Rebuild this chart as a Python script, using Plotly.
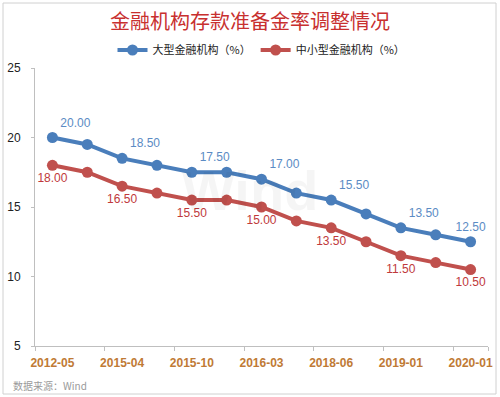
import plotly.graph_objects as go

categories = ["2012-05", "2015-02", "2015-04", "2015-09", "2015-10", "2016-01", "2016-03",
              "2018-04", "2018-06", "2018-10", "2019-01", "2019-09", "2020-01"]
tick_labels = ["2012-05", "2015-04", "2015-10", "2016-03", "2018-06", "2019-01", "2020-01"]
large_banks = [20.0, 19.5, 18.5, 18.0, 17.5, 17.5, 17.0, 16.0, 15.5, 14.5, 13.5, 13.0, 12.5]
small_banks = [18.0, 17.5, 16.5, 16.0, 15.5, 15.5, 15.0, 14.0, 13.5, 12.5, 11.5, 11.0, 10.5]

BLUE = "#4a7ebb"
BLUE_TXT = "#5b8bc4"
RED = "#c0504d"
RED_TXT = "#c0393b"

def labels(vals):
    return [f"{v:.2f}" if i % 2 == 0 else "" for i, v in enumerate(vals)]

blue_pos = ["top right"] * (len(categories) - 1) + ["top center"]

fig = go.Figure()
fig.add_trace(go.Scatter(
    x=categories, y=large_banks, name="大型金融机构（%）",
    mode="lines+markers+text",
    line=dict(color=BLUE, width=4), marker=dict(color=BLUE, size=11),
    text=labels(large_banks), textposition=blue_pos,
    textfont=dict(color=BLUE_TXT, size=12, family="Liberation Sans"),
    cliponaxis=False,
))
fig.add_trace(go.Scatter(
    x=categories, y=small_banks, name="中小型金融机构（%）",
    mode="lines+markers+text",
    line=dict(color=RED, width=4), marker=dict(color=RED, size=11),
    text=labels(small_banks), textposition="bottom center",
    textfont=dict(color=RED_TXT, size=12, family="Liberation Sans"),
    cliponaxis=False,
))

L, R, T, B = 35, 12, 68, 51
W, H = 500, 397
pw, ph = W - L - R, H - T - B

def px_x(p):
    return (p - L) / pw

def px_y(p):
    return (H - B - p) / ph

fig.update_layout(
    width=W, height=H,
    margin=dict(l=L, r=R, t=T, b=B, autoexpand=False),
    paper_bgcolor="white", plot_bgcolor="white",
    title=dict(text="金融机构存款准备金率调整情况", x=0.5, xanchor="center",
               y=1 - 22 / H, yanchor="middle",
               font=dict(family="Noto Sans CJK SC", size=20, color="#c8302f")),
    legend=dict(orientation="h", x=0.5, xanchor="center", y=px_y(50), yanchor="middle",
                font=dict(family="Noto Sans CJK SC", size=11, color="#222"),
                itemwidth=30, bgcolor="rgba(0,0,0,0)"),
    showlegend=True,
    xaxis=dict(type="category", range=[-0.5, len(categories) - 0.5],
               tickmode="array", tickvals=tick_labels, ticktext=tick_labels,
               tickson="boundaries", ticks="outside", ticklen=4, tickcolor="#bfbfbf",
               tickangle=0, automargin=False, ticklabelstandoff=6,
               showline=True, linecolor="#bfbfbf", linewidth=1, showgrid=False,
               tickfont=dict(family="Liberation Sans", size=12, color="#c07a35", weight="bold"),
               zeroline=False),
    yaxis=dict(range=[5, 25], tickvals=[5, 10, 15, 20, 25], ticks="outside", ticklen=3,
               tickcolor="#bfbfbf", showline=True, linecolor="#bfbfbf", linewidth=1,
               showgrid=False, zeroline=False, automargin=False, ticklabelstandoff=8,
               tickfont=dict(family="Liberation Sans", size=12, color="#222")),
    font=dict(family="Liberation Sans"),
    annotations=[
        dict(text="数据来源：Wind", xref="paper", yref="paper", x=px_x(11), y=px_y(385),
             xanchor="left", yanchor="middle", showarrow=False,
             font=dict(family="Noto Sans CJK SC", size=10, color="#9a9a9a")),
        dict(text="<b>Wind</b>", xref="paper", yref="paper", x=px_x(250), y=px_y(190),
             xanchor="center", yanchor="middle", showarrow=False,
             font=dict(family="Liberation Sans", size=56, color="rgba(0,0,0,0.04)")),
    ],
    shapes=[
        dict(type="rect", xref="paper", yref="paper", x0=px_x(3), x1=px_x(496),
             y0=px_y(394), y1=px_y(3), line=dict(color="#d0d0d0", width=1), layer="below"),
    ],
)

fig.write_html("out.html", config={"displayModeBar": False},
               post_script="document.body.style.margin='0';")
